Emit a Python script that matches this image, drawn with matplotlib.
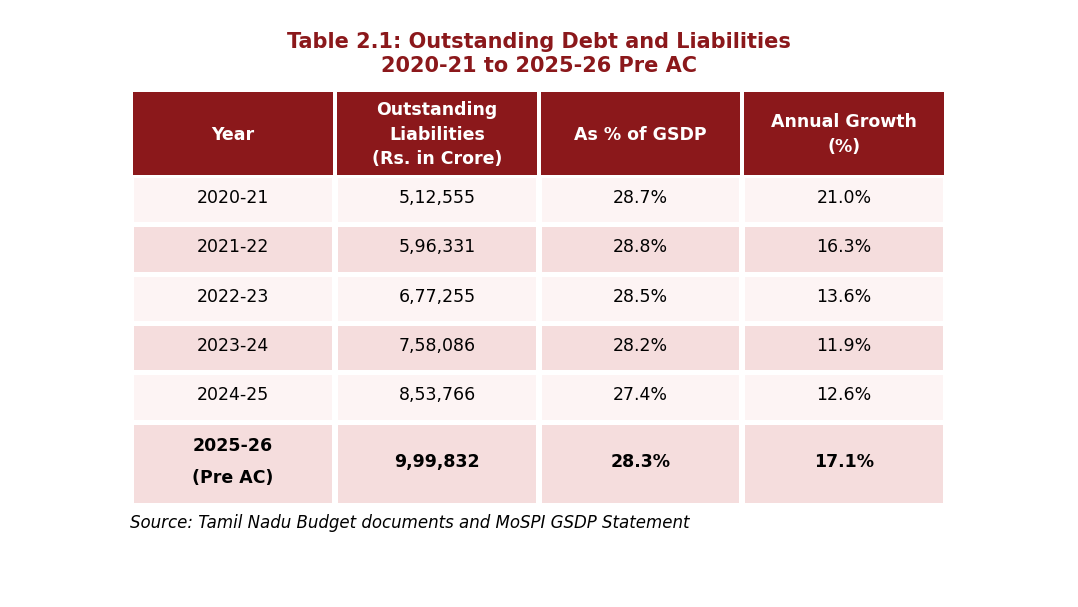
import matplotlib

matplotlib.use("Agg")
import matplotlib.pyplot as plt
from matplotlib.patches import Rectangle

title = "Table 2.1: Outstanding Debt and Liabilities\n2020-21 to 2025-26 Pre AC"
headers = ["Year", "Outstanding\nLiabilities\n(Rs. in Crore)", "As % of GSDP", "Annual Growth\n(%)"]
years = ["2020-21", "2021-22", "2022-23", "2023-24", "2024-25", "2025-26\n(Pre AC)"]
liabilities = ["5,12,555", "5,96,331", "6,77,255", "7,58,086", "8,53,766", "9,99,832"]
pct_gsdp = ["28.7%", "28.8%", "28.5%", "28.2%", "27.4%", "28.3%"]
growth = ["21.0%", "16.3%", "13.6%", "11.9%", "12.6%", "17.1%"]
source = "Source: Tamil Nadu Budget documents and MoSPI GSDP Statement"

HEAD = "#8b181b"
LIGHT = "#fdf4f4"
DARK = "#f5dddd"

W, H = 1078, 607
fig = plt.figure(figsize=(W / 100, H / 100), dpi=100, facecolor="white")
ax = fig.add_axes([0, 0, 1, 1])
ax.set_xlim(0, W)
ax.set_ylim(H, 0)
ax.axis("off")

col_x = [(133, 333), (337, 537), (541, 740), (744, 944)]
head_y = (92, 175)
row_y = [(178, 222), (227, 272), (277, 321), (326, 370), (375, 420), (425, 503)]

ax.text(539, 54, title, ha="center", va="center", fontsize=15, fontweight="bold",
        color=HEAD, linespacing=1.3)

for (x0, x1), h in zip(col_x, headers):
    ax.add_patch(Rectangle((x0, head_y[0]), x1 - x0, head_y[1] - head_y[0], color=HEAD, lw=0))
    ax.text((x0 + x1) / 2, (head_y[0] + head_y[1]) / 2 + 1, h, ha="center", va="center",
            fontsize=12.5, fontweight="bold", color="white", linespacing=1.45)

rows = list(zip(years, liabilities, pct_gsdp, growth))
for i, ((y0, y1), row) in enumerate(zip(row_y, rows)):
    fill = LIGHT if i % 2 == 0 else DARK
    last = i == len(rows) - 1
    for (x0, x1), val in zip(col_x, row):
        ax.add_patch(Rectangle((x0 + 1, y0), x1 - x0 - 2, y1 - y0, color=fill, lw=0))
        ax.text((x0 + x1) / 2, (y0 + y1) / 2 - 2, val, ha="center", va="center",
                fontsize=12.5, color="black", fontweight="bold" if last else "normal",
                linespacing=2.0)

ax.text(130, 523, source, ha="left", va="center", fontsize=12, style="italic", color="black")

fig.savefig("out.png", dpi=100, facecolor="white")
